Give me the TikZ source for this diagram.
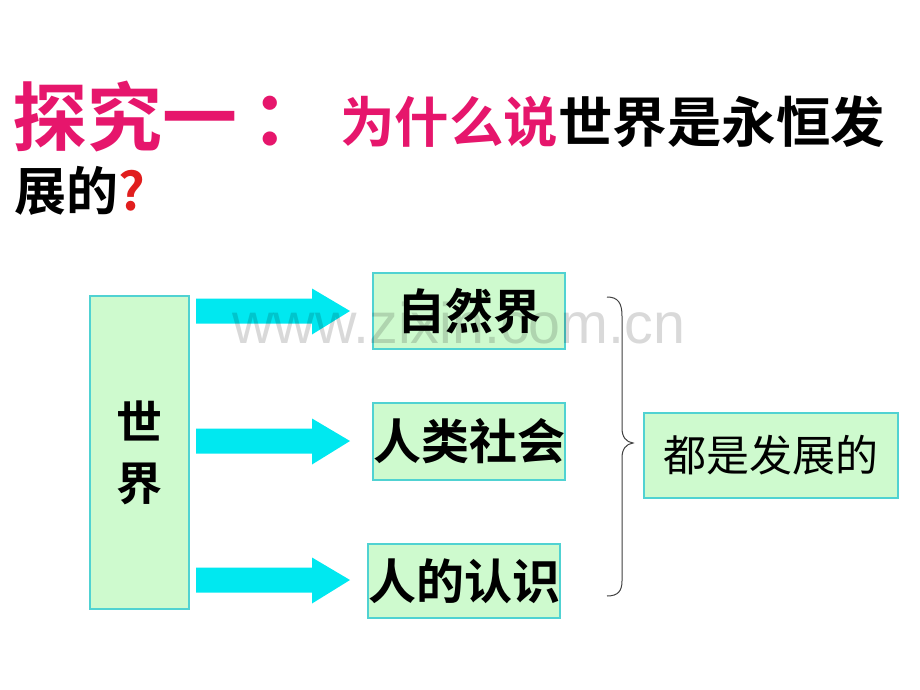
\documentclass[tikz,border=0pt]{standalone}
\usepackage{fontspec}
\newfontfamily\cjk{Noto Sans CJK SC}[BoldFont={Noto Sans CJK SC Bold}]
\newfontfamily\wmfont{Liberation Sans}
\definecolor{titlepink}{RGB}{230,22,108}
\definecolor{qred}{RGB}{225,30,30}
\definecolor{boxfill}{RGB}{206,250,206}
\definecolor{boxline}{RGB}{80,210,210}
\definecolor{arrowcyan}{RGB}{0,232,240}
\tikzset{
  gbox/.style={draw=boxline, line width=1.2pt, fill=boxfill, inner sep=0pt, align=center},
  boldtxt/.style={font=\cjk\bfseries\fontsize{48}{56}\selectfont},
  cyanarrow/.style={fill=arrowcyan},
}
\begin{document}
\begin{tikzpicture}[x=1pt,y=-1pt]
\useasboundingbox (0,0) rectangle (920,690);
\fill[white] (0,0) rectangle (920,690);
% title
\node[anchor=west, inner sep=0, text=titlepink, font=\cjk\bfseries\fontsize{75}{75}\selectfont] (t1) at (12,117) {探究一\kern14pt：};
\node[anchor=west, inner sep=0, font=\cjk\bfseries\fontsize{54.5}{55}\selectfont] (t2) at (340,122) {\textcolor{titlepink}{为什么说}世界是永恒发};
\node[anchor=west, inner sep=0, font=\cjk\bfseries\fontsize{52}{55}\selectfont] (t3) at (14,191) {展的\textcolor{qred}{?}};
% boxes
\node[gbox, minimum width=99pt, minimum height=313pt, font=\cjk\bfseries\fontsize{46}{61}\selectfont] (world) at (139.5,452.5) {世\\界};
\node[gbox, minimum width=192pt, minimum height=76pt, boldtxt] (nature) at (469,311) {自然界};
\node[gbox, minimum width=192pt, minimum height=77pt, boldtxt] (society) at (469,441.5) {人类社会};
\node[gbox, minimum width=192pt, minimum height=74pt, boldtxt] (know) at (464,581) {人的认识};
\node[gbox, minimum width=254pt, minimum height=85pt, font=\cjk\fontsize{43}{50}\selectfont] (dev) at (771,455.5) {都是发展的};
% arrows
\coordinate (a1) at (196,311);
\coordinate (a2) at (196,441);
\coordinate (a3) at (196,580);
\foreach \a in {a1,a2,a3}{
  \fill[cyanarrow] (\a) ++(0,-12.5) -- ++(116,0) -- ++(0,-10) -- ++(38,22.5) -- ++(-38,23.5) -- ++(0,-11) -- ++(-116,0) -- cycle;
}
% brace
\draw[line width=1pt, black!75] (607,297) .. controls (618,297) and (622,303) .. (622,316) -- (622,428) .. controls (622,437) and (626,442) .. (633,443) .. controls (626,444) and (622,449) .. (622,458) -- (622,581) .. controls (622,591) and (618,596) .. (607,596);
% watermark
\node[anchor=base west, inner sep=0, font=\wmfont\fontsize{57.4}{60}\selectfont, text=black, text opacity=0.15] (wm) at (232,343) {www.zixin.com.cn};
\end{tikzpicture}
\end{document}
